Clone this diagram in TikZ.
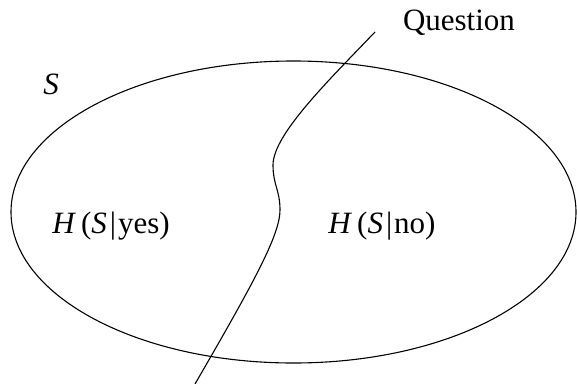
\documentclass[tikz,border=0pt]{standalone}
\usepackage{fontspec}
\setmainfont{Liberation Serif}
\begin{document}
\begin{tikzpicture}[x=1pt,y=-1pt,
  lbl/.style={inner sep=0pt, font=\fontsize{31}{35}\selectfont},
  curve/.style={line width=1.1pt}]
\useasboundingbox (0,0) rectangle (577,383);
\draw[curve] (293.5,212) ellipse [x radius=282.5, y radius=151];
\node[lbl] (S) at (51,84) {\textit{S}};
\node[lbl] (yes) at (111,226) {\textit{H}\kern5pt(\textit{S}\kern3pt|\kern2pt yes)};
\node[lbl] (no) at (382,226) {\textit{H}\kern5pt(\textit{S}\kern3pt|\kern2pt no)};
\node[lbl] (q) at (459,23) {Question};
\coordinate (top) at (375,32);
\coordinate (m1) at (273,165);
\coordinate (m2) at (280,210);
\coordinate (bot) at (195,384);
\draw[curve] (top) .. controls (327,82) and (273,135) .. (m1)
  .. controls (273,185) and (280,190) .. (m2)
  .. controls (280,235) and (253.5,283) .. (bot);
\end{tikzpicture}
\end{document}
